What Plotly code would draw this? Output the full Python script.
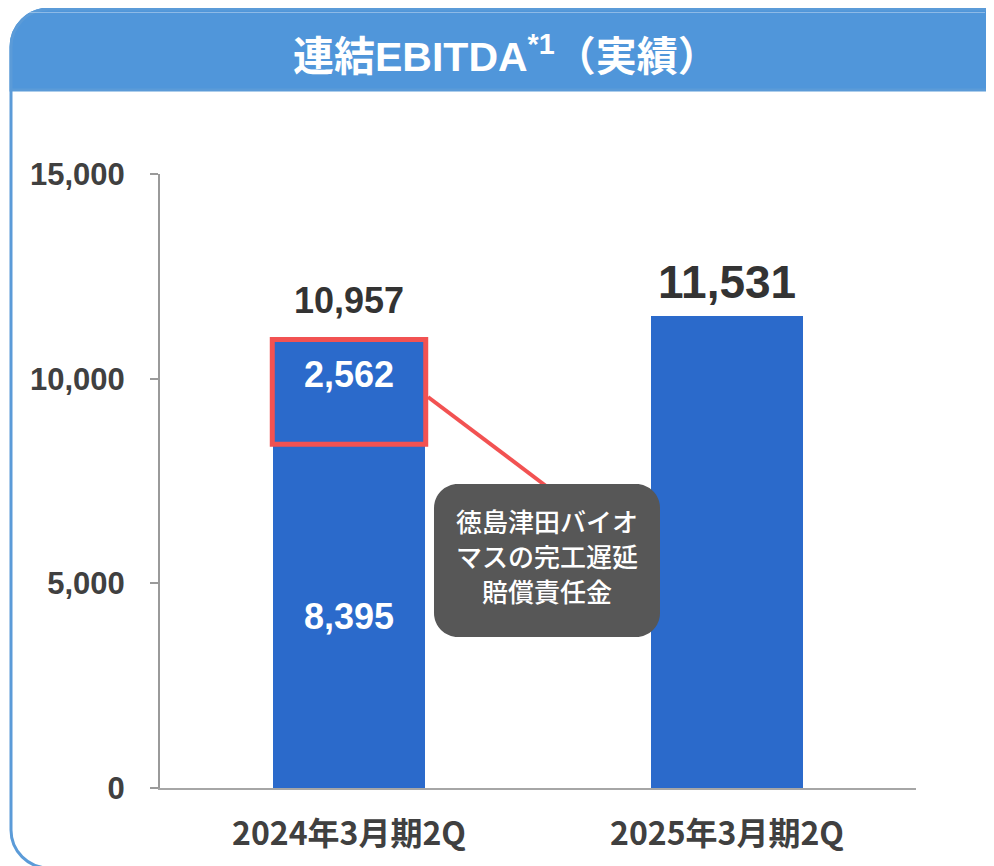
import plotly.graph_objects as go

# ---------------- data ----------------
categories = ["2024年3月期2Q", "2025年3月期2Q"]
base_values = [8395, 11531]
compensation_values = [2562, 0]
totals = [b + c for b, c in zip(base_values, compensation_values)]
y_tick_values = [0, 5000, 10000, 15000]
y_tick_labels = ["0", "5,000", "10,000", "15,000"]
title_text = "<b>連結EBITDA<sup>*1</sup>（実績）</b>"
callout_lines = ["徳島津田バイオ", "マスの完工遅延", "賠償責任金"]

# ---------------- layout constants ----------------
W, H = 994, 866
OFF = 8  # page body margin
L, R, T, B = 152, 86, 166, 86
BAR_BLUE = "#2B6ACB"
HEADER_BLUE = "#5096DA"
BORDER_BLUE = "#5B9BD8"
RED = "#F25252"
AXIS_GRAY = "#9A9A9A"
TEXT_GRAY = "#404040"
NUM_FONT = "Liberation Sans, Arial, sans-serif"
CJK_FONT = "Liberation Sans, Noto Sans CJK JP, sans-serif"
BAR_W = 0.4


def pxx(x):
    return (x - OFF - L) / (W - L - R)


def pxy(y):
    return (H - B - (y - OFF)) / (H - T - B)


def pt(x, y):
    return f"{pxx(x):.5f},{pxy(y):.5f}"


def rrect_path(x0, y0, x1, y1, r, rb=None):
    if rb is None:
        rb = r
    k = 0.5523 * r
    kb = 0.5523 * rb
    p = [f"M{pt(x0 + r, y0)}", f"L{pt(x1 - r, y0)}",
         f"C{pt(x1 - r + k, y0)} {pt(x1, y0 + r - k)} {pt(x1, y0 + r)}",
         f"L{pt(x1, y1 - rb)}"]
    if rb:
        p.append(f"C{pt(x1, y1 - rb + kb)} {pt(x1 - rb + kb, y1)} {pt(x1 - rb, y1)}")
    p.append(f"L{pt(x0 + rb, y1)}")
    if rb:
        p.append(f"C{pt(x0 + rb - kb, y1)} {pt(x0, y1 - rb + kb)} {pt(x0, y1 - rb)}")
    p.append(f"L{pt(x0, y0 + r)}")
    p.append(f"C{pt(x0, y0 + r - k)} {pt(x0 + r - k, y0)} {pt(x0 + r, y0)}")
    p.append("Z")
    return " ".join(p)


fig = go.Figure()
fig.add_trace(go.Bar(x=categories, y=base_values, width=BAR_W,
                     marker=dict(color=BAR_BLUE, line=dict(width=0)),
                     hoverinfo="skip"))
fig.add_trace(go.Bar(x=categories, y=compensation_values, width=BAR_W,
                     marker=dict(color=BAR_BLUE, line=dict(width=0)),
                     hoverinfo="skip"))

shapes = [
    # outer frame
    dict(type="path", xref="paper", yref="paper", layer="below",
         path=rrect_path(11, 9, 1020, 868, 38),
         fillcolor="white", line=dict(color=BORDER_BLUE, width=3)),
    # header band
    dict(type="path", xref="paper", yref="paper", layer="below",
         path=rrect_path(11, 9, 1020, 90, 38, 0),
         fillcolor=HEADER_BLUE, line=dict(color=BORDER_BLUE, width=3)),
    dict(type="line", xref="paper", yref="paper", layer="below",
         x0=pxx(28), x1=pxx(985), y0=pxy(12.5), y1=pxy(12.5),
         line=dict(color="rgba(255,255,255,0.35)", width=1)),
    # highlight box around compensation segment
    dict(type="rect", xref="x", yref="y",
         x0=-BAR_W / 2 - 0.003, x1=BAR_W / 2 + 0.003,
         y0=base_values[0], y1=totals[0],
         line=dict(color=RED, width=5)),
    # connector
    dict(type="line", xref="paper", yref="paper",
         x0=pxx(428), y0=pxy(397), x1=pxx(546), y1=pxy(486),
         line=dict(color=RED, width=4)),
    # callout box
    dict(type="path", xref="paper", yref="paper",
         path=rrect_path(434, 484, 660, 637, 24),
         fillcolor="#575757", line=dict(width=0)),
]

annotations = [
    dict(text=title_text, xref="paper", yref="paper", x=pxx(506), y=pxy(54),
         showarrow=False, xanchor="center", yanchor="middle",
         font=dict(family=CJK_FONT, size=41, color="white")),
    # totals above bars
    dict(text=f"<b>{totals[0]:,}</b>", x=categories[0], y=totals[0], xref="x", yref="y",
         showarrow=False, yanchor="middle", yshift=39,
         font=dict(family=NUM_FONT, size=36, color="#333333")),
    dict(text=f"<b>{totals[1]:,}</b>", x=categories[1], y=totals[1], xref="x", yref="y",
         showarrow=False, yanchor="middle", yshift=34,
         font=dict(family=NUM_FONT, size=46, color="#333333")),
    # inside labels
    dict(text=f"<b>{compensation_values[0]:,}</b>", x=categories[0], y=totals[0],
         xref="x", yref="y", showarrow=False, yanchor="middle", yshift=-35,
         font=dict(family=NUM_FONT, size=36, color="white")),
    dict(text=f"<b>{base_values[0]:,}</b>", x=categories[0], y=base_values[0] / 2,
         xref="x", yref="y", showarrow=False, yanchor="middle", yshift=0,
         font=dict(family=NUM_FONT, size=36, color="white")),
]
# callout text, one annotation per line for tight line spacing
for i, line in enumerate(callout_lines):
    annotations.append(dict(
        text=line, xref="paper", yref="paper", x=pxx(547), y=pxy(520 + 35 * i),
        showarrow=False, xanchor="center", yanchor="middle", align="center",
        font=dict(family="Noto Sans CJK JP, sans-serif", size=26, color="white",
                  weight=500)))

fig.update_layout(
    width=W, height=H,
    margin=dict(l=L, r=R, t=T, b=B, autoexpand=False),
    paper_bgcolor="white", plot_bgcolor="rgba(0,0,0,0)",
    barmode="stack", bargap=0, showlegend=False,
    shapes=shapes, annotations=annotations,
    xaxis=dict(range=[-0.5, 1.5], showgrid=False, zeroline=False,
               showline=True, linecolor="#A6A6A6", linewidth=2,
               ticks="", ticklabelstandoff=17,
               tickfont=dict(family="Noto Sans CJK JP, sans-serif", size=32,
                             color=TEXT_GRAY, weight="bold")),
    yaxis=dict(range=[0, 15000], tickvals=y_tick_values, ticktext=y_tick_labels,
               showgrid=False, zeroline=False, showline=True,
               linecolor=AXIS_GRAY, linewidth=2, ticks="outside", ticklen=8,
               tickwidth=2, tickcolor=AXIS_GRAY, ticklabelstandoff=19,
               tickfont=dict(family=NUM_FONT, size=31, color=TEXT_GRAY,
                             weight="bold")),
)

fig.write_html("out.html")
